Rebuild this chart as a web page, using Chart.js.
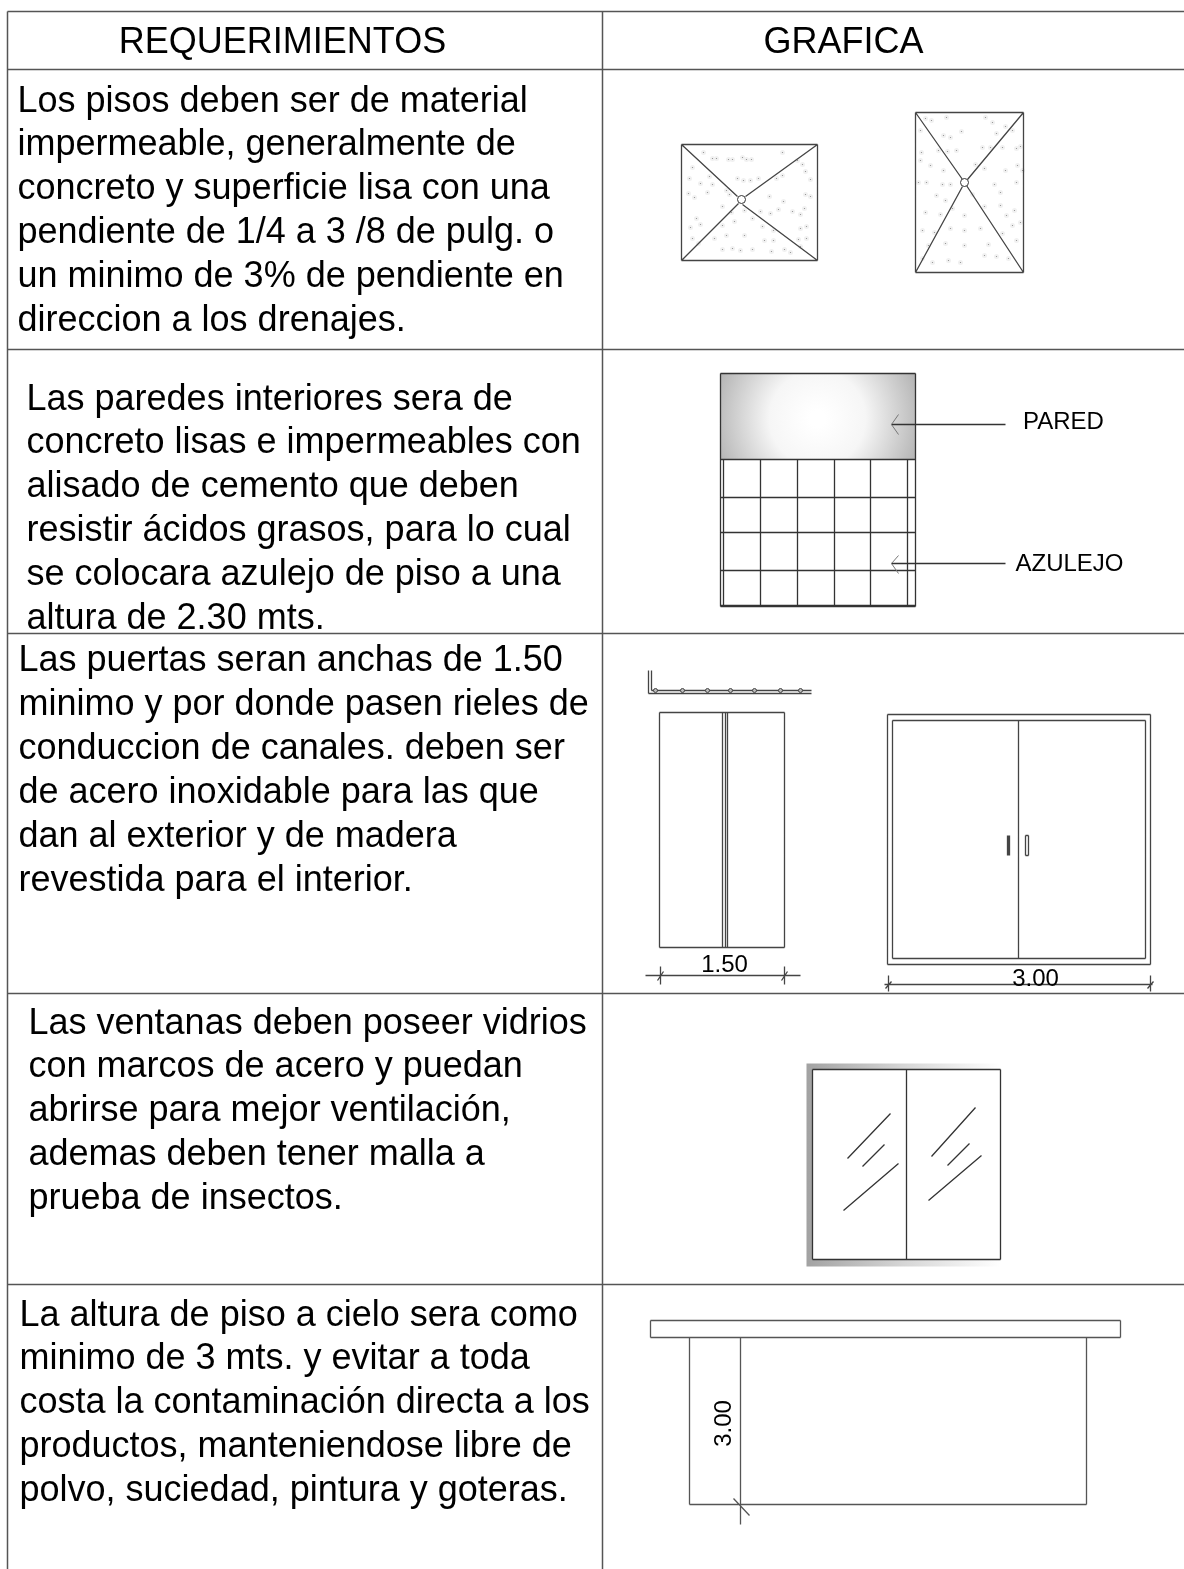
<!DOCTYPE html>
<html lang="es">
<head>
<meta charset="utf-8">
<title>Requerimientos</title>
<script src="https://cdn.jsdelivr.net/npm/chart.js@4"></script>
<style>
    html, body { margin: 0; padding: 0; background: #fff; }
    canvas { display: block; }
</style>
</head>
<body>
<canvas id="sheet" width="1184" height="1569"></canvas>
<script>
// Texts
const headers = ['REQUERIMIENTOS', 'GRAFICA'];
const rowPisos = ['Los pisos deben ser de material', 'impermeable, generalmente de', 'concreto y superficie lisa con una', 'pendiente de 1/4 a 3 /8 de pulg. o', 'un minimo de 3% de pendiente en', 'direccion a los drenajes.'];
const rowParedes = ['Las paredes interiores sera de', 'concreto lisas e impermeables con', 'alisado de cemento que deben', 'resistir ácidos grasos, para lo cual', 'se colocara azulejo de piso a una', 'altura de 2.30 mts.'];
const rowPuertas = ['Las puertas seran anchas de 1.50', 'minimo y por donde pasen rieles de', 'conduccion de canales. deben ser', 'de acero inoxidable para las que', 'dan al exterior y de madera', 'revestida para el interior.'];
const rowVentanas = ['Las ventanas deben poseer vidrios', 'con marcos de acero y puedan', 'abrirse para mejor ventilación,', 'ademas deben tener malla a', 'prueba de insectos.'];
const rowAltura = ['La altura de piso a cielo sera como', 'minimo de 3 mts. y evitar a toda', 'costa la contaminación directa a los', 'productos, manteniendose libre de', 'polvo, suciedad, pintura y goteras.'];

// Line work, each item is x1, y1, x2, y2 in sheet units
const tableLines = [[7, 11, 1184, 11], [7, 69, 1184, 69], [7, 349, 1184, 349], [7, 633, 1184, 633], [7, 993, 1184, 993], [7, 1284, 1184, 1284], [7, 11, 7, 1569], [602, 11, 602, 1569]];
const floorLines = [
    [681, 144, 817, 144], [681, 260, 817, 260], [681, 144, 681, 260], [817, 144, 817, 260],
    [681, 144, 737, 196], [817, 144, 745, 196], [681, 260, 738, 203], [817, 260, 742, 204],
    [915, 112, 1023, 112], [915, 272, 1023, 272], [915, 112, 915, 272], [1023, 112, 1023, 272],
    [915, 112, 962, 179], [1023, 112, 967, 179], [915, 272, 962, 186], [1023, 272, 966, 185]
];
const wallLines = [
    [720, 373, 915, 373], [720, 373, 720, 606], [915, 373, 915, 606], [720, 459, 915, 459], [720, 497, 915, 497], [720, 532, 915, 532], [720, 570, 915, 570],
    [723, 459, 723, 606], [760, 459, 760, 606], [797, 459, 797, 606], [834, 459, 834, 606], [870, 459, 870, 606], [907, 459, 907, 606],
    [720, 606, 915, 606], [720, 605, 915, 605],
    [891, 424, 1005, 424], [891, 563, 1005, 563]
];
const arrowLines = [[891, 424, 898, 414], [891, 424, 898, 434], [891, 563, 898, 555], [891, 563, 898, 573]];
const doorLines = [
    [648, 670, 648, 693], [651, 670, 651, 690], [648, 693, 811, 693], [651, 690, 811, 690],
    [659, 712, 784, 712], [659, 947, 784, 947], [659, 712, 659, 947], [784, 712, 784, 947],
    [722, 712, 722, 947], [725, 712, 725, 947], [727, 712, 727, 947],
    [645, 975, 800, 975], [660, 966, 660, 984], [784, 966, 784, 984], [657, 980, 663, 971], [781, 980, 787, 971],
    [887, 714, 1150, 714], [887, 964, 1150, 964], [887, 714, 887, 964], [1150, 714, 1150, 964],
    [892, 720, 1145, 720], [892, 958, 1145, 958], [892, 720, 892, 958], [1145, 720, 1145, 958],
    [1018, 720, 1018, 958],
    [1007, 835, 1007, 855], [1008, 835, 1008, 855], [1009, 835, 1009, 855], [1025, 835, 1025, 855], [1028, 835, 1028, 855], [1025, 835, 1028, 835], [1025, 855, 1028, 855],
    [884, 984, 1152, 984], [888, 975, 888, 991], [1150, 975, 1150, 991], [885, 988, 891, 981], [1147, 988, 1153, 981]
];
const windowLines = [
    [812, 1069, 1000, 1069], [812, 1259, 1000, 1259], [812, 1069, 812, 1259], [1000, 1069, 1000, 1259], [906, 1069, 906, 1259],
    [847, 1158, 890, 1113], [862, 1166, 884, 1144], [843, 1210, 898, 1163],
    [931, 1156, 975, 1107], [947, 1165, 969, 1143], [928, 1200, 981, 1155]
];
const ceilingLines = [
    [650, 1320, 1120, 1320], [650, 1337, 1120, 1337], [650, 1320, 650, 1337], [1120, 1320, 1120, 1337],
    [689, 1337, 689, 1504], [1086, 1337, 1086, 1504], [689, 1504, 1086, 1504],
    [740, 1337, 740, 1524], [733, 1498, 749, 1515]
];

// Filled areas, as outlines
const wallPanel = [[720, 373], [915, 373], [915, 459], [720, 459], [720, 373]];
const windowFrame = [[806, 1063], [1000, 1063], [1000, 1266], [806, 1266], [806, 1063]];
const windowGlass = [[812, 1069], [1000, 1069], [1000, 1259], [812, 1259], [812, 1069]];

// Small marks
const drainCircles = [[741, 199], [964, 182]];
const railStuds = [[655, 690], [682, 690], [707, 690], [730, 690], [754, 690], [780, 690], [800, 690]];
const concreteDots = [
    [703, 152], [712, 158], [716, 158], [728, 159], [732, 159], [742, 157], [746, 159], [751, 159], [782, 152], [797, 160], [802, 164],
    [692, 167], [689, 178], [700, 183], [709, 176], [712, 184], [737, 178], [743, 180], [750, 180], [758, 178], [776, 178], [782, 175], [805, 171], [810, 179],
    [688, 193], [694, 197], [707, 192], [726, 190], [729, 194], [769, 196], [783, 201], [805, 194], [810, 196],
    [722, 206], [731, 212], [744, 210], [752, 218], [760, 211], [770, 213], [778, 209], [792, 211], [800, 214], [804, 208],
    [696, 218], [690, 227], [700, 224], [722, 225], [734, 221], [762, 226], [773, 230], [800, 228], [806, 226],
    [692, 238], [698, 243], [714, 238], [726, 235], [744, 235], [764, 240], [773, 240], [798, 239], [806, 238],
    [722, 249], [732, 248], [740, 250], [752, 249], [771, 251], [784, 249], [790, 252], [800, 246],
    [925, 118], [931, 120], [946, 117], [985, 117], [992, 122], [1005, 126], [1012, 130],
    [920, 130], [943, 135], [950, 137], [961, 131], [996, 133], [1020, 146],
    [921, 152], [920, 160], [938, 150], [947, 151], [956, 150], [982, 147], [990, 147], [1002, 147], [1016, 148],
    [930, 165], [943, 170], [975, 164], [984, 168], [1005, 170], [1017, 165], [1022, 170],
    [918, 182], [926, 182], [942, 184], [950, 184], [994, 184], [1000, 192], [1016, 182],
    [936, 195], [945, 200], [972, 194], [984, 206], [1000, 205], [1014, 210],
    [925, 212], [940, 214], [952, 208], [964, 215], [980, 228], [1006, 215], [1020, 222],
    [922, 230], [934, 232], [950, 228], [964, 230], [1002, 233], [1012, 225],
    [928, 245], [945, 243], [964, 245], [988, 244], [1016, 240],
    [922, 258], [932, 262], [948, 260], [960, 262], [984, 255], [996, 256], [1008, 258]
];

// Labels on the drawings
const drawingLabels = ['PARED', 'AZULEJO', '1.50', '3.00', '3.00'];

// Layout of the text
const headerPlaces = [[282, 52], [843, 52]];
const rowPlaces = [
    { lines: rowPisos, x: 17, y: 111 },
    { lines: rowParedes, x: 26, y: 409 },
    { lines: rowPuertas, x: 18, y: 670.5 },
    { lines: rowVentanas, x: 28, y: 1033 },
    { lines: rowAltura, x: 19, y: 1325 }
];
const rowStep = 43.9;
const labelPlaces = [
    { x: 1063, y: 428, size: 24 },
    { x: 1069, y: 570, size: 24 },
    { x: 724, y: 971, size: 24 },
    { x: 1035, y: 985, size: 24 },
    { x: 730, y: 1423, size: 24, rotate: -Math.PI / 2 }
];

function segmentPoints(segments) {
    const points = [];
    segments.forEach(s => {
        points.push({ x: s[0], y: s[1] }, { x: s[2], y: s[3] }, { x: null, y: null });
    });
    return points;
}

function outlinePoints(outline) {
    return outline.map(p => ({ x: p[0], y: p[1] }));
}

function markPoints(marks) {
    return marks.map(p => ({ x: p[0], y: p[1] }));
}

function lineSet(segments, color, width) {
    return { data: segmentPoints(segments), borderColor: color, borderWidth: width || 1, pointRadius: 0, showLine: true, spanGaps: false, tension: 0, clip: false };
}

function fillSet(outline, background) {
    return { data: outlinePoints(outline), borderWidth: 0, borderColor: 'transparent', pointRadius: 0, showLine: true, fill: 'shape', backgroundColor: background, tension: 0, clip: false };
}

function markSet(marks, radius, fillColor, edgeColor) {
    return { data: markPoints(marks), showLine: false, pointRadius: radius, pointBackgroundColor: fillColor, pointBorderColor: edgeColor, pointBorderWidth: edgeColor === 'transparent' ? 0 : 1, clip: false };
}

// Wall shading, light in the middle and grey towards the edges
function wallShade(context) {
    const chart = context.chart;
    if (!chart.chartArea) return '#dddddd';
    const g = chart.ctx.createRadialGradient(chart.scales.x.getPixelForValue(817), chart.scales.y.getPixelForValue(418), 8, chart.scales.x.getPixelForValue(817), chart.scales.y.getPixelForValue(418), 108);
    g.addColorStop(0, '#ffffff');
    g.addColorStop(0.4, '#f6f6f6');
    g.addColorStop(1, '#b2b2b2');
    return g;
}

// Window frame shading, dark on the left fading out to the right
function frameShade(context) {
    const chart = context.chart;
    if (!chart.chartArea) return '#dddddd';
    const g = chart.ctx.createLinearGradient(chart.scales.x.getPixelForValue(806), 0, chart.scales.x.getPixelForValue(1000), 0);
    g.addColorStop(0, '#a2a2a2');
    g.addColorStop(0.5, '#d6d6d6');
    g.addColorStop(1, '#ffffff');
    return g;
}

// Real text drawn at positions taken from the chart scales
const sheetText = {
    id: 'sheetText',
    afterDatasetsDraw(chart) {
        const ctx = chart.ctx;
        const xs = chart.scales.x;
        const ys = chart.scales.y;
        ctx.save();
        ctx.fillStyle = '#000000';
        ctx.textBaseline = 'alphabetic';

        ctx.font = '36px "Liberation Sans"';
        ctx.textAlign = 'center';
        headers.forEach((text, i) => {
            ctx.fillText(text, xs.getPixelForValue(headerPlaces[i][0]), ys.getPixelForValue(headerPlaces[i][1]));
        });

        ctx.textAlign = 'left';
        rowPlaces.forEach(row => {
            row.lines.forEach((text, i) => {
                ctx.fillText(text, xs.getPixelForValue(row.x), ys.getPixelForValue(row.y + i * rowStep));
            });
        });

        ctx.textAlign = 'center';
        drawingLabels.forEach((text, i) => {
            const place = labelPlaces[i];
            ctx.save();
            ctx.translate(xs.getPixelForValue(place.x), ys.getPixelForValue(place.y));
            if (place.rotate) ctx.rotate(place.rotate);
            ctx.font = place.size + 'px "Liberation Sans"';
            ctx.fillText(text, 0, 0);
            ctx.restore();
        });
        ctx.restore();
    }
};

const datasets = [
    markSet(concreteDots, 2.5, '#f1f1f1', 'transparent'),
    markSet(concreteDots, 0.6, '#8a8a8a', 'transparent'),
    fillSet(wallPanel, wallShade),
    fillSet(windowFrame, frameShade),
    fillSet(windowGlass, '#ffffff'),
    lineSet(tableLines, '#555555', 1.5),
    lineSet(floorLines, '#444444', 1.3),
    lineSet(wallLines, '#333333', 1.3),
    lineSet(arrowLines, '#777777'),
    lineSet(doorLines, '#444444', 1.3),
    lineSet(windowLines, '#333333', 1.3),
    lineSet(ceilingLines, '#555555', 1.3),
    markSet(drainCircles, 4, '#ffffff', '#333333'),
    markSet(railStuds, 2, '#bbbbbb', '#444444')
];
// later sets are painted over earlier ones
datasets.forEach((set, i) => { set.order = -i; });

new Chart(document.getElementById('sheet'), {
    type: 'scatter',
    data: { datasets },
    options: {
        responsive: false,
        animation: false,
        layout: { padding: 0, autoPadding: false },
        plugins: { legend: { display: false }, tooltip: { enabled: false } },
        scales: {
            x: { type: 'linear', display: false, min: -0.5, max: 1183.5 },
            y: { type: 'linear', display: false, reverse: true, min: -0.5, max: 1568.5 }
        }
    },
    plugins: [sheetText]
});
</script>
</body>
</html>
